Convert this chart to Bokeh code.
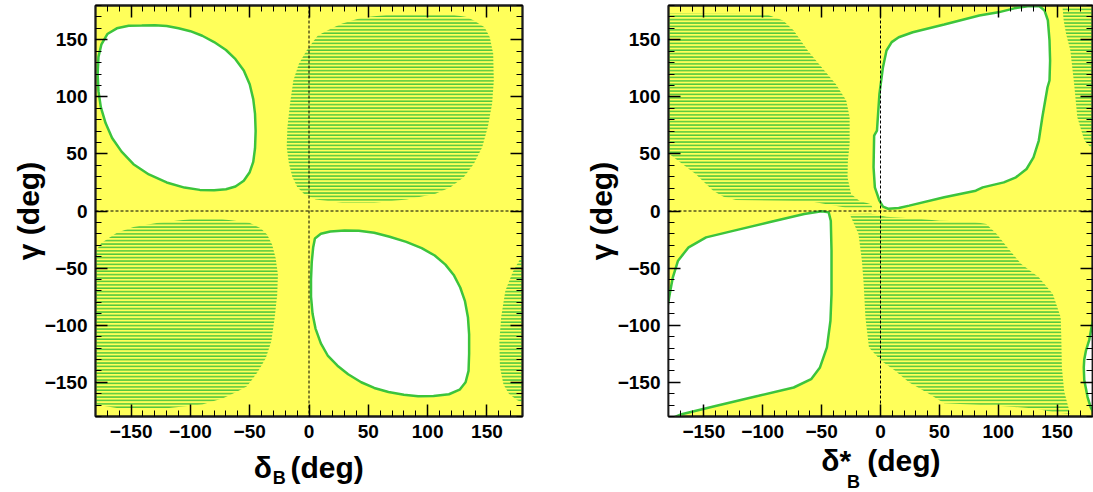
from bokeh.plotting import figure
from bokeh.models import Range1d, LinearAxis, FixedTicker, Span, Label, CustomLabelingPolicy
from bokeh.layouts import row, column
from bokeh.embed import file_html
from bokeh.resources import INLINE

# ---------------- axis ticks ----------------
TICKS = [-150, -100, -50, 0, 50, 100, 150]
TICK_LABELS = ["\u2212150", "\u2212100", "\u221250", "0", "50", "100", "150"]
MINOR_TICKS = list(range(-180, 181, 10))

# ---------------- left panel (delta_B) ----------------
L_HOLE1_X = [-141, -130, -120, -110, -100, -90, -80, -70, -62, -55, -50, -47, -45.5, -45, -45.5, -47, -50, -55, -62, -70,
             -80, -92, -105, -120, -135, -148, -158, -166, -171.5, -175.5, -177.5, -178.2, -177.5, -175, -170, -162, -152]
L_HOLE1_Y = [162.5, 162.8, 162, 160, 157.5, 153.5, 148, 141, 133, 123, 111, 98, 85, 70, 55, 43, 34, 26.5, 21.5, 19,
             18.2, 18.5, 20.5, 25, 32, 41, 52, 64, 77, 91, 105, 120, 135, 146, 155, 160, 162.3]

L_HOLE2_X = [5, 10, 18, 30, 42, 55, 68, 82, 95, 106, 115, 122, 127.5, 131.5, 134, 135, 135, 134.5, 132, 127, 118, 105,
             92, 80, 67, 55, 44, 33, 24, 16, 10, 5.5, 3, 1.7, 1.7, 2.3, 3.5]
L_HOLE2_Y = [-24, -20, -18, -17, -17.2, -19, -22.5, -27, -32.5, -39, -47, -56, -67, -79, -93, -108, -125, -140, -150,
             -156.5, -160.5, -162, -162.3, -161, -158.5, -155, -150, -143, -135.5, -127, -116, -103, -90, -75, -60, -45, -32]

L_HATCH1_X = [36.5, 45, 73, 117, 133, 139, 148, 152.4, 155.3, 155.8, 154.4, 150.7, 146, 139, 130.6, 119.3, 106.7, 82.3,
              55, 28, 5.6, -4.3, -9.8, -14, -16.9, -18.8, -18.2, -16, -13.2, -8.5, -2, 4.2, 7.5, 15.5, 21, 27.5]
L_HATCH1_Y = [166.9, 169.5, 172.5, 172.5, 170, 166.9, 161, 152.2, 137.7, 114.3, 93.9, 73.4, 55.9, 41.4, 29.7, 20.9,
              15.1, 10.1, 7.2, 7.2, 10.1, 15.1, 20.9, 29.7, 41.4, 55.9, 73.4, 93.9, 114.3, 129, 140.6, 149.4, 153.7,
              158.1, 161, 164]

L_HATCH2_X = [-81.5, -90, -118, -162, -178, -184, -193, -197.4, -200.3, -200.8, -199.4, -195.7, -191, -184, -175,
              -162, -148, -126, -100, -73, -50.6, -40.7, -35.2, -31, -28.1, -26.2, -26.8, -29, -31.8, -36.5, -43,
              -49.2, -52.5, -60.5, -66, -72.5]
L_HATCH2_Y = [-166.9, -169.5, -172.5, -172.5, -170, -166.9, -161, -152.2, -137.7, -114.3, -93.9, -73.4, -55.9, -41.4,
              -28, -19, -14, -10, -7.2, -7.2, -10.1, -15.1, -20.9, -29.7, -41.4, -55.9, -73.4, -93.9, -114.3, -129,
              -140.6, -149.4, -153.7, -158.1, -161, -164]

L_HATCH3_X = [181, 178, 172, 165.5, 162, 160.5, 161, 164, 168.5, 176, 181]
L_HATCH3_Y = [-38, -42, -53, -70, -93, -114, -137, -152, -160, -166, -168]

# ---------------- right panel (delta*_B) ----------------
R_HOLE1_X = [5.1, 9.5, 15.5, 27.4, 54.1, 83.9, 100, 113.6, 125, 131, 135, 139.3, 142.1, 143.5, 144, 143.5, 141.8,
             137.4, 134.4, 129.9, 124, 115, 104.7, 86.8, 80.9, 54.1, 24.4, 15.5, 6.5, 2.1, -0.9, -4.8, -5.9, -5.4,
             -3, -0.9, 2.1]
R_HOLE1_Y = [140.6, 147.9, 152.2, 156.6, 163.3, 171.2, 174, 177.5, 179.3, 179.6, 179.3, 175.6, 166.9, 149.4, 131.8,
             114.3, 108.4, 82.1, 61.7, 47, 36.8, 29.5, 25.1, 20.7, 17.8, 12, 4.7, 2.6, 2, 3.8, 9, 20.7, 38.3, 66,
             70.4, 102.6, 126]

R_HOLE2_X = [-181, -178.5, -176.3, -171.9, -162.9, -148.1, -124.3, -94.6, -64.8, -50, -44, -42.2, -41.6, -41.6,
             -42.5, -45.5, -51.4, -58.9, -73.7, -103.5, -139.2, -168.9, -176]
R_HOLE2_Y = [-85, -70, -58.1, -43.5, -31.8, -23.1, -17.2, -9.9, -2.6, -0.3, -1.2, -8.5, -34.8, -72.8, -96.1, -119.5,
             -137, -147.3, -154.6, -161.9, -170.6, -178, -181]

R_HOLE3_X = [181, 179.5, 177.2, 174.5, 173, 172.6, 173, 174.5, 175.8, 178.5, 181]
R_HOLE3_Y = [-95, -100, -113, -122, -130, -137, -148, -156, -163, -172, -177]

R_HATCH1_X = [-181, -97.5, -82.7, -73.7, -61.8, -50, -38, -29.1, -26.2, -26.2, -27.7, -28, -25, -18, -8, -7, -30,
              -60, -122.8, -133.2, -142.1, -157, -179.3, -181]
R_HATCH1_Y = [173, 172.5, 166.9, 158.1, 140.6, 125.9, 111.3, 96.7, 82.1, 58.7, 44.1, 29.5, 15, 9, 6, 3, 3, 8.5,
              9.6, 12.5, 17.8, 32.4, 50, 51]

R_HATCH2_X = [-26.2, -8, 5, 35, 50, 77.9, 89.8, 98.7, 107.6, 119.5, 134.4, 146.3, 153, 153.5, 154, 156, 159, 161,
              148, 131.4, 98.7, 54.1, 39.3, 24.4, 12.5, 0.6, -9.8, -12.8, -14.3, -15.8, -18.7]
R_HATCH2_Y = [-2.6, -2.5, -5, -7, -8.5, -9.1, -11.4, -20.2, -31.8, -46.5, -58.1, -72.8, -93, -110, -137, -158,
              -170, -177.5, -176.5, -173, -170.5, -168.5, -159, -150.2, -140, -131.2, -119.5, -93.2, -64, -43.5, -20.2]

R_HATCH3_X = [154.5, 181, 181, 178.4, 173.1, 167.1, 164.4, 161.2, 157.5, 155.5]
R_HATCH3_Y = [179, 179, 54, 55.8, 61.7, 82.1, 111.3, 140.6, 155.5, 167]

# axis titles (text, x in data units, baseline height above the bottom of the title strip, size)
L_XTITLE = [("\u03b4", -46.6, 25, "30px"), ("B", -30.6, 15, "18px"), ("(deg)", -15.6, 25, "30px")]
R_XTITLE = [("\u03b4*", -50.3, 32, "30px"), ("B", -28.5, 11, "18px"), ("(deg)", -11.3, 32, "30px")]
YTITLE = "\u03b3 (deg)"

# ---------------- styles ----------------
YELLOW = "#ffff5a"
GREEN = "#3cc43c"
HATCH_GREEN = "#46c43c"
FONT = "Liberation Sans"
NO_LABELS = CustomLabelingPolicy(code="return new Set()")


def style_axis(ax, labels):
    ax.ticker = FixedTicker(ticks=TICKS, minor_ticks=MINOR_TICKS)
    ax.major_tick_in = 12
    ax.major_tick_out = 0
    ax.minor_tick_in = 6
    ax.minor_tick_out = 0
    ax.major_tick_line_color = "black"
    ax.major_tick_line_width = 1.5
    ax.minor_tick_line_color = "black"
    ax.minor_tick_line_width = 1
    ax.axis_line_color = "#1a1a1a"
    ax.axis_line_width = 1.8
    if labels:
        ax.major_label_overrides = dict(zip(TICKS, TICK_LABELS))
        ax.major_label_text_font = FONT
        ax.major_label_text_font_style = "bold"
        ax.major_label_text_font_size = "19px"
        ax.major_label_text_color = "black"
        ax.major_label_standoff = 8
    else:
        ax.major_label_policy = NO_LABELS
        ax.major_label_text_font_size = "1px"
        ax.major_label_standoff = 0


def make_panel(fw, border_right, hatches, holes, contours):
    p = figure(frame_width=fw, frame_height=411,
               x_range=Range1d(-180, 180), y_range=Range1d(-180, 180),
               output_backend="svg", toolbar_location=None,
               min_border_left=95, min_border_right=border_right,
               min_border_top=5, min_border_bottom=45,
               background_fill_color=YELLOW, border_fill_color="white",
               outline_line_color="#1a1a1a", outline_line_width=1.8)
    p.grid.visible = False
    style_axis(p.xaxis[0], True)
    style_axis(p.yaxis[0], True)
    ya = p.yaxis[0]
    ya.axis_label = YTITLE
    ya.axis_label_text_font = FONT
    ya.axis_label_text_font_style = "bold"
    ya.axis_label_text_font_size = "30px"
    ya.axis_label_text_color = "black"
    ya.axis_label_standoff = -3
    top = LinearAxis()
    style_axis(top, False)
    p.add_layout(top, "above")
    right = LinearAxis()
    style_axis(right, False)
    p.add_layout(right, "right")

    for hx, hy in hatches:
        p.patch(hx, hy, fill_alpha=0, line_alpha=0,
                hatch_pattern="horizontal_line", hatch_color=HATCH_GREEN,
                hatch_scale=3.4, hatch_weight=1.6, hatch_alpha=0.95)
    for hx, hy, outlined in holes:
        if outlined:
            p.patch(hx, hy, fill_color="white", line_color=GREEN, line_width=2.5)
        else:
            p.patch(hx, hy, fill_color="white", line_alpha=0)
    for cx, cy in contours:
        p.line(cx, cy, line_color=GREEN, line_width=2.5)

    p.add_layout(Span(location=0, dimension="width", line_color="black",
                      line_width=1, line_dash="3 2"))
    p.add_layout(Span(location=0, dimension="height", line_color="black",
                      line_width=1, line_dash="3 2"))
    return p


def make_title_strip(fw, border_right, parts):
    # transparent strip pulled up over the tick-label area so the titles sit inside its frame
    q = figure(frame_width=fw, frame_height=60,
               x_range=Range1d(-180, 180), y_range=Range1d(0, 60),
               output_backend="svg", toolbar_location=None,
               x_axis_location=None, y_axis_location=None,
               min_border_left=95, min_border_right=border_right,
               min_border_top=0, min_border_bottom=0,
               background_fill_alpha=0, border_fill_alpha=0,
               outline_line_color=None, margin=(-29, 0, 0, 0))
    q.grid.visible = False
    for text, x, y, size in parts:
        q.add_layout(Label(x=x, y=y, x_units="data", y_units="screen", text=text,
                           text_font=FONT, text_font_style="bold", text_font_size=size,
                           text_color="black", text_align="left",
                           text_baseline="alphabetic"))
    return q


p1 = make_panel(
    427, 51,
    [(L_HATCH1_X, L_HATCH1_Y), (L_HATCH2_X, L_HATCH2_Y), (L_HATCH3_X, L_HATCH3_Y)],
    [(L_HOLE1_X, L_HOLE1_Y, True), (L_HOLE2_X, L_HOLE2_Y, True)],
    [],
)
p2 = make_panel(
    424, 1,
    [(R_HATCH1_X, R_HATCH1_Y), (R_HATCH2_X, R_HATCH2_Y), (R_HATCH3_X, R_HATCH3_Y)],
    [(R_HOLE1_X, R_HOLE1_Y, True),
     (R_HOLE2_X + [-181], R_HOLE2_Y + [-181], False),
     (R_HOLE3_X, R_HOLE3_Y, False)],
    [(R_HOLE2_X, R_HOLE2_Y), (R_HOLE3_X, R_HOLE3_Y)],
)
q1 = make_title_strip(427, 51, L_XTITLE)
q2 = make_title_strip(424, 1, R_XTITLE)

layout = column(row(p1, p2), row(q1, q2))
open("out.html", "w").write(file_html(layout, INLINE))
